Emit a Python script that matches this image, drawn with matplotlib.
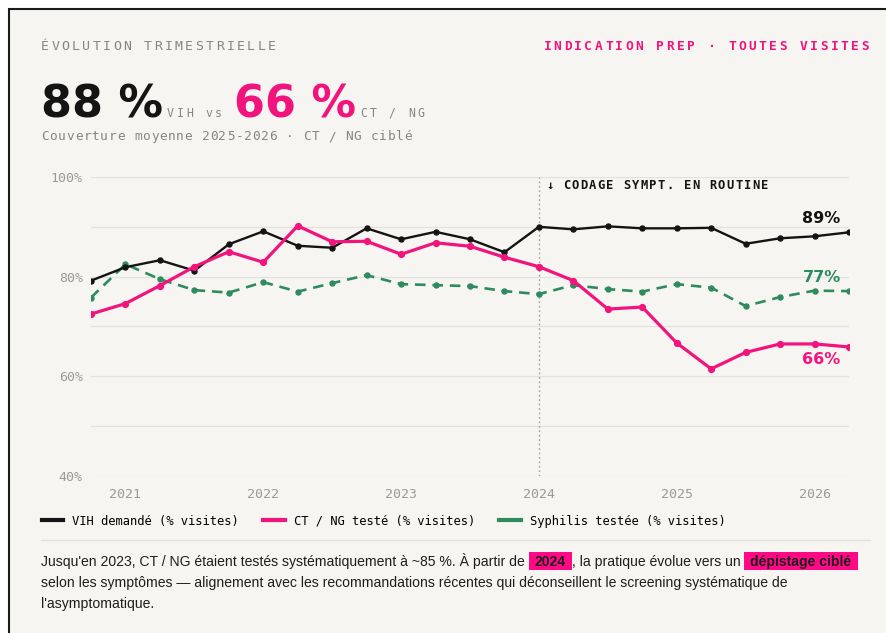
import matplotlib
matplotlib.use('Agg')
import matplotlib.pyplot as plt
from matplotlib import font_manager
from matplotlib.lines import Line2D
from matplotlib.patches import Rectangle

W, H = 886, 633

# trimestres (T1..T4) de fin 2020 a debut 2026
quarters = ['2020 T4',
            '2021 T1', '2021 T2', '2021 T3', '2021 T4',
            '2022 T1', '2022 T2', '2022 T3', '2022 T4',
            '2023 T1', '2023 T2', '2023 T3', '2023 T4',
            '2024 T1', '2024 T2', '2024 T3', '2024 T4',
            '2025 T1', '2025 T2', '2025 T3', '2025 T4',
            '2026 T1', '2026 T2']
vih = [79.2, 81.9, 83.3, 81.2, 86.5, 89.1, 86.2, 85.8, 89.7, 87.5, 89.0, 87.5,
       84.9, 90.0, 89.5, 90.1, 89.7, 89.7, 89.8, 86.6, 87.7, 88.1, 88.9]
ctng = [72.5, 74.6, 78.2, 82.0, 85.0, 82.9, 90.2, 87.0, 87.1, 84.5, 86.8, 86.1,
        83.9, 82.0, 79.2, 73.5, 73.9, 66.7, 61.5, 64.8, 66.5, 66.5, 65.9]
syph = [75.8, 82.5, 79.5, 77.3, 76.8, 78.9, 77.0, 78.7, 80.3, 78.5, 78.3, 78.1,
        77.1, 76.5, 78.3, 77.5, 77.0, 78.5, 77.8, 74.1, 75.9, 77.2, 77.1]
years = [2021, 2022, 2023, 2024, 2025, 2026]
yticks = [40, 60, 80, 100]
series_labels = ['VIH demandé (% visites)', 'CT / NG testé (% visites)', 'Syphilis testée (% visites)']

BLACK = '#141414'
PINK = '#f2147d'
GREEN = '#2e8a5f'
GRAY = '#858585'
BG = '#f6f5f1'
MONO = 'DejaVu Sans Mono'

names = {f.name for f in font_manager.fontManager.ttflist}
BODY = 'Liberation Sans Narrow' if 'Liberation Sans Narrow' in names else 'Liberation Sans'


def qpos(q):
    y, t = q.split(' T')
    return int(y) + (int(t) - 1) / 4


x = [qpos(q) for q in quarters]

fig = plt.figure(figsize=(W / 100, H / 100), dpi=100, facecolor='white')
fig.patches.append(Rectangle((9 / W, -0.1), 1.2, 1.1 - 9 / H, transform=fig.transFigure,
                             fc=BG, ec='#1a1a1a', lw=1.5, zorder=-10))
renderer = fig.canvas.get_renderer()


def px(xp, yp):
    return xp / W, 1 - yp / H


def spaced(xp, yp, s, pitch, size, color, weight='normal', ha='left'):
    adv = 0.602 * size * 100 / 72
    span = (len(s) - 1) * pitch + adv
    if ha == 'right':
        xp = xp - span
    elif ha == 'center':
        xp = xp - span / 2
    for i, ch in enumerate(s):
        fig.text(*px(xp + i * pitch, yp), ch, fontsize=size, color=color, weight=weight,
                 family=MONO, ha='left', va='baseline')
    return xp + span


def run(xp, yp, s, **kw):
    t = fig.text(*px(xp, yp), s, va='baseline', **kw)
    return xp + t.get_window_extent(renderer).width


# en-tete
spaced(41, 50, 'ÉVOLUTION TRIMESTRIELLE', 10.3, 9.5, GRAY)
spaced(869, 50, 'INDICATION PREP · TOUTES VISITES', 10.25, 9.3, PINK, weight='bold', ha='right')

xe = run(41, 117, '88 %', fontsize=32, weight='bold', color=BLACK, family='DejaVu Sans')
xe = spaced(xe + 4, 117, 'VIH vs', 9.6, 8.3, GRAY)
xe = run(xe + 12, 117, '66 %', fontsize=32, weight='bold', color=PINK, family='DejaVu Sans')
spaced(xe + 4, 117, 'CT / NG', 9.6, 8.3, GRAY)
spaced(41, 140, 'Couverture moyenne 2025-2026 · CT / NG ciblé', 8.45, 9.2, GRAY)

# graphique
ax = fig.add_axes([91 / W, (H - 476) / H, 758 / W, 299 / H])
ax.set_facecolor('none')
ax.set_xlim(x[0], x[-1])
ax.set_ylim(40, 100)
for s in ax.spines.values():
    s.set_visible(False)
for g in range(40, 101, 10):
    ax.axhline(g, color='#e3e2dd', lw=0.9, zorder=0)
ax.axvline(2024, color='#a0a0a0', lw=1, linestyle=(0, (1.2, 2)), zorder=1)

ax.plot(x, syph, color=GREEN, lw=1.9, linestyle=(0, (4, 2.6)), marker='o', ms=3.6, zorder=3)
ax.plot(x, vih, color=BLACK, lw=1.7, marker='o', ms=3.6, zorder=4)
ax.plot(x, ctng, color=PINK, lw=2.3, marker='o', ms=4.2, zorder=5)

ax.set_xticks(years)
ax.set_xticklabels([str(y) for y in years])
ax.set_yticks(yticks)
ax.set_yticklabels([f'{v}%' for v in yticks])
ax.tick_params(length=0, labelsize=9.5, labelcolor='#9a9a9a')
ax.tick_params(axis='x', pad=9)
ax.tick_params(axis='y', pad=6)
for lab in ax.get_xticklabels() + ax.get_yticklabels():
    lab.set_family(MONO)

ax.annotate(f'{vih[-1]:.0f}%', xy=(x[-1], vih[-1]), xytext=(-6, 10), textcoords='offset points',
            ha='right', va='center', fontsize=11.5, weight='bold', color=BLACK)
ax.annotate(f'{syph[-1]:.0f}%', xy=(x[-1], syph[-1]), xytext=(-6, 10), textcoords='offset points',
            ha='right', va='center', fontsize=11.5, weight='bold', color=GREEN)
ax.annotate(f'{ctng[-1]:.0f}%', xy=(x[-1], ctng[-1]), xytext=(-6, -9), textcoords='offset points',
            ha='right', va='center', fontsize=11.5, weight='bold', color=PINK)

spaced(546, 189, '↓ CODAGE SYMPT. EN ROUTINE', 8.6, 8.7, BLACK, weight='bold')

# legende
handles = [Line2D([], [], color=c, lw=3) for c in (BLACK, PINK, GREEN)]
fig.legend(handles, series_labels, loc='center left', bbox_to_anchor=px(42, 521), ncol=3,
           frameon=False, handlelength=1.75, handletextpad=0.75, columnspacing=2.0,
           borderpad=0, borderaxespad=0, prop={'family': MONO, 'size': 8.75})

fig.add_artist(Line2D([41 / W, 870 / W], [1 - 540 / H] * 2, color='#e2e1dc', lw=1))

# texte de bas de page
line2 = 'selon les symptômes — alignement avec les recommandations récentes qui déconseillent le screening systématique de'
probe = fig.text(0, 0, line2, fontsize=10, family=BODY)
fs = 10 * 748 / probe.get_window_extent(renderer).width
probe.remove()
body = dict(fontsize=fs, family=BODY, color='#1e1e1e')


def highlight(xp, yp, s):
    t = fig.text(*px(xp + 6, yp), s, va='baseline', fontsize=fs, family=BODY,
                 weight='bold', color='#1e1e1e', zorder=3)
    w = t.get_window_extent(renderer).width
    fig.patches.append(Rectangle(px(xp, yp + 4), (w + 12) / W, 18 / H, transform=fig.transFigure,
                                 fc='#ff0a84', ec='none', zorder=2))
    return xp + w + 12


xe = run(41, 566, "Jusqu'en 2023, CT / NG étaient testés systématiquement à ~85 %. À partir de ", **body)
xe = highlight(xe, 566, '2024')
xe = run(xe, 566, ', la pratique évolue vers un ', **body)
highlight(xe, 566, 'dépistage ciblé')
run(41, 587, line2, **body)
run(41, 608, "l'asymptomatique.", **body)

fig.savefig('out.png', dpi=100, facecolor='white')
